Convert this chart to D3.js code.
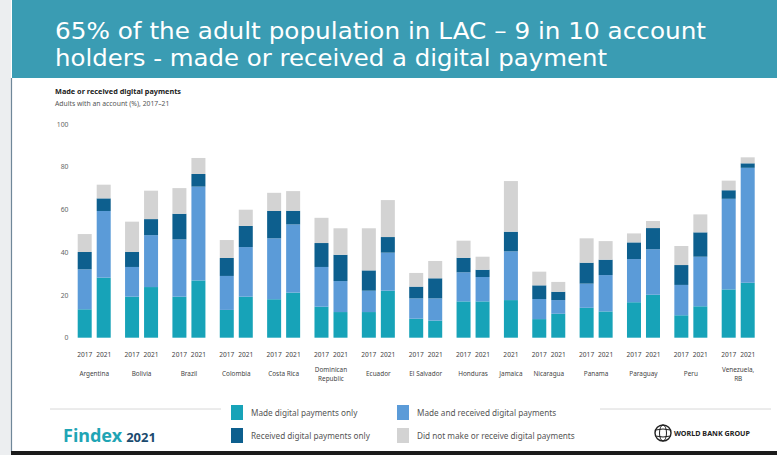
<!DOCTYPE html>
<html><head><meta charset="utf-8">
<script src="https://cdn.jsdelivr.net/npm/d3@7"></script>
<style>html,body{margin:0;padding:0;background:#fff;}svg{display:block;}</style>
</head><body>
<svg id="chart" width="777" height="455"></svg>
<script>
// ---- data ----
const countries = ["Argentina","Bolivia","Brazil","Colombia","Costa Rica","Dominican Republic","Ecuador","El Salvador","Honduras","Jamaica","Nicaragua","Panama","Paraguay","Peru","Venezuela, RB"];
const countryYears = [["2017","2021"],["2017","2021"],["2017","2021"],["2017","2021"],["2017","2021"],["2017","2021"],["2017","2021"],["2017","2021"],["2017","2021"],["2021"],["2017","2021"],["2017","2021"],["2017","2021"],["2017","2021"],["2017","2021"]];
const seriesNames = ["Made digital payments only","Made and received digital payments","Received digital payments only","Did not make or receive digital payments"];
// one value per bar, in bar order (country, then year)
const madeOnly    = [13.3,28.1, 19.2,23.7, 19.2,26.8, 13.0,19.2, 18.0,21.1, 14.5,12.0, 12.0,22.0, 8.9,8.0, 17.0,17.0, 17.6, 8.7,11.2, 14.0,12.3, 16.6,20.1, 10.5,14.7, 22.6,25.7];
const madeAndRecv = [18.7,31.2, 13.9,24.3, 26.8,43.9, 15.9,23.2, 28.5,31.9, 18.6,14.5, 10.0,17.8, 9.5,10.4, 13.6,11.4, 22.8, 9.4,6.4, 11.3,17.0, 20.2,21.3, 14.2,23.2, 42.4,53.8];
const recvOnly    = [8.1,5.9, 7.0,7.5, 12.0,5.9, 8.4,9.9, 12.8,6.4, 11.2,12.3, 9.5,7.3, 5.5,9.4, 6.8,3.4, 9.2, 6.4,3.9, 9.8,7.2, 7.8,9.9, 9.3,11.4, 4.0,2.1];
const noPayment   = [8.4,6.4, 14.2,13.3, 12.0,7.5, 8.4,7.6, 8.5,9.2, 11.8,12.4, 19.7,17.3, 6.4,8.1, 8.0,6.1, 23.7, 6.4,4.6, 11.4,8.7, 4.2,3.3, 8.9,8.4, 4.5,2.8];
const yTicks = [0,20,40,60,80,100];
const titleLines = ["65% of the adult population in LAC \u2013 9 in 10 account","holders - made or received a digital payment"];

const colors = ["#17a3b8","#5b9bd8","#0d5f8e","#d3d3d3"];
const keys = ["made","both","recv","none"];

// build rows
const rows = [];
let bi = 0;
countries.forEach((c, g) => {
  countryYears[g].forEach(yr => {
    rows.push({country:c, group:g, year:yr, idx:bi,
      made:madeOnly[bi], both:madeAndRecv[bi], recv:recvOnly[bi], none:noPayment[bi]});
    bi++;
  });
});

const svg = d3.select("#chart");
const W = 777, H = 455;

// background frame
svg.append("rect").attr("x",0).attr("y",0).attr("width",W).attr("height",H).attr("fill","#ffffff");
svg.append("rect").attr("x",0).attr("y",0).attr("width",11).attr("height",H).attr("fill","#eceef0");
svg.append("line").attr("x1",11.5).attr("x2",11.5).attr("y1",78).attr("y2",452).attr("stroke","#6f8799").attr("stroke-width",1.2);
svg.append("rect").attr("x",11).attr("y",451).attr("width",W-11).attr("height",4).attr("fill","#1b1b1b");

// banner
svg.append("rect").attr("x",12).attr("y",0).attr("width",W-12).attr("height",78).attr("fill","#3a9cb3");
const titleW = [651, 552];
titleLines.forEach((t,i)=>{
  svg.append("text").attr("x",55).attr("y",38.5+i*27)
    .attr("font-family","'DejaVu Sans', sans-serif").attr("font-size",22.5).attr("fill","#ffffff")
    .attr("textLength",titleW[i]).attr("lengthAdjust","spacingAndGlyphs")
    .text(t);
});

// subtitles
svg.append("text").attr("x",55).attr("y",94).attr("font-family","'Noto Sans', sans-serif").attr("font-size",7.3).attr("font-weight","bold").attr("fill","#222").text("Made or received digital payments");
svg.append("text").attr("x",55).attr("y",106).attr("font-family","'Noto Sans', sans-serif").attr("font-size",6.8).attr("fill","#555").text("Adults with an account (%), 2017\u201321");

// scales
const gapRatio = 0.492; // extra space between country groups, in bar steps
const lastRow = rows[rows.length-1];
const unit = r => r.idx + r.group*gapRatio;
const x = d3.scaleLinear().domain([0, unit(lastRow)]).range([77.7, 740.7]);
const barW = x(14/19) - x(0);
const y = d3.scaleLinear().domain([0,100]).range([337.7,124]);

// y axis
const yAxis = svg.append("g").attr("transform","translate(68.5,0)")
  .call(d3.axisLeft(y).tickValues(yTicks).tickSize(0).tickPadding(0));
yAxis.select(".domain").remove();
yAxis.selectAll("text").attr("font-family","'Noto Sans', sans-serif").attr("font-size",6.8).attr("fill","#666");

// stacked bars
const stack = d3.stack().keys(keys)(rows);
svg.append("g").selectAll("g").data(stack).join("g")
  .attr("fill",(d,i)=>colors[i])
  .selectAll("rect").data(d=>d).join("rect")
  .attr("x",d=>x(unit(d.data)))
  .attr("width",barW)
  .attr("y",d=>y(d[1]))
  .attr("height",d=>y(d[0])-y(d[1]));

// year labels
svg.append("g").selectAll("text").data(rows).join("text")
  .attr("x",d=>x(unit(d))+barW/2).attr("y",357)
  .attr("text-anchor","middle").attr("font-family","'Noto Sans', sans-serif").attr("font-size",6.6).attr("fill","#444")
  .text(d=>d.year);

// country labels
const groups = countries.map((c,g)=>{
  const rs = rows.filter(r=>r.group===g);
  const x0 = x(unit(rs[0])), x1 = x(unit(rs[rs.length-1]))+barW;
  return {name:c, cx:(x0+x1)/2};
});
const wrapNames = {"Dominican Republic":["Dominican","Republic"],"Venezuela, RB":["Venezuela,","RB"]};
const cl = svg.append("g").selectAll("text").data(groups).join("text")
  .attr("text-anchor","middle").attr("font-family","'Noto Sans', sans-serif").attr("font-size",6.4).attr("fill","#444");
cl.each(function(d){
  const lines = wrapNames[d.name] || [d.name];
  const t = d3.select(this);
  const y0 = lines.length>1 ? 372 : 376;
  lines.forEach((ln,i)=>t.append("tspan").attr("x",d.cx).attr("y",y0+i*8.5).text(ln));
});

// legend
svg.append("line").attr("x1",50).attr("x2",221).attr("y1",409).attr("y2",409).attr("stroke","#d8d8d8").attr("stroke-width",1);
svg.append("line").attr("x1",600).attr("x2",771).attr("y1",409).attr("y2",409).attr("stroke","#d8d8d8").attr("stroke-width",1);
const legPos = [[231,405],[397,405],[231,428],[397,428]];
const legOrder = [0,1,2,3];
const lg = svg.append("g").selectAll("g").data(legOrder).join("g")
  .attr("transform",(d,i)=>`translate(${legPos[i][0]},${legPos[i][1]})`);
lg.append("rect").attr("width",12).attr("height",15).attr("fill",d=>colors[d]);
lg.append("text").attr("x",20).attr("y",10.5).attr("font-family","'Noto Sans', sans-serif").attr("font-size",8.2).attr("fill","#555").text(d=>seriesNames[d]);

// Findex logo text
const fx = svg.append("text").attr("x",63).attr("y",442).attr("font-family","'Noto Sans', sans-serif").attr("font-weight","bold");
fx.append("tspan").attr("font-size",18).attr("fill","#1fa5b5").text("Findex");
fx.append("tspan").attr("font-size",13).attr("fill","#1b4a6e").attr("dx",4).text("2021");

// World Bank Group logo
const wb = svg.append("g").attr("transform","translate(663,433)");
wb.append("circle").attr("r",8).attr("fill","none").attr("stroke","#222").attr("stroke-width",1.4);
wb.append("ellipse").attr("rx",3.5).attr("ry",8).attr("fill","none").attr("stroke","#222").attr("stroke-width",1);
wb.append("path").attr("d","M-7.5,-3 Q0,-5 7.5,-3 M-7.5,3 Q0,5 7.5,3").attr("fill","none").attr("stroke","#222").attr("stroke-width",1);
svg.append("text").attr("x",674).attr("y",436).attr("font-family","'Noto Sans', sans-serif").attr("font-weight","bold").attr("font-size",7.4).attr("fill","#222").attr("textLength",76).attr("lengthAdjust","spacingAndGlyphs").text("WORLD BANK GROUP");
</script>
</body></html>
